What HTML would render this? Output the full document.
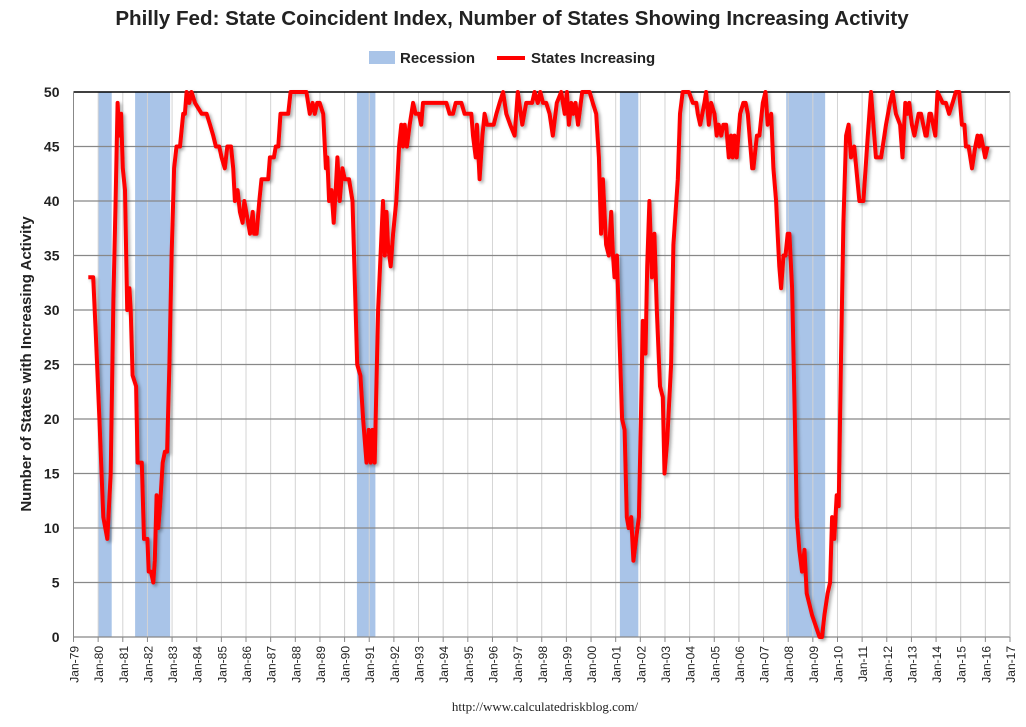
<!DOCTYPE html>
<html><head><meta charset="utf-8"><style>
body{margin:0;background:#fff;}
svg text{font-family:"Liberation Sans",sans-serif;}
</style></head><body>
<svg id="chart" width="1026" height="722" xmlns="http://www.w3.org/2000/svg">
<defs><filter id="sh" x="-5%" y="-5%" width="110%" height="110%"><feDropShadow dx="2" dy="2" stdDeviation="1.5" flood-color="#000" flood-opacity="0.35"/></filter></defs>
<text x="512" y="25" text-anchor="middle" font-size="20.6" font-weight="bold" fill="#222">Philly Fed: State Coincident Index, Number of States Showing Increasing Activity</text>
<g>
<rect x="369" y="51" width="26" height="13" fill="#a9c4e8"/>
<text x="400" y="63" font-size="15" font-weight="bold" fill="#222">Recession</text>
<line x1="497" y1="58" x2="525" y2="58" stroke="#f00" stroke-width="4"/>
<text x="531" y="63" font-size="15" font-weight="bold" fill="#222">States Increasing</text>
</g>
<text transform="translate(31,364) rotate(-90)" text-anchor="middle" font-size="15" font-weight="bold" fill="#222">Number of States with Increasing Activity</text>
<text x="545" y="711" text-anchor="middle" font-size="13" style="font-family:'Liberation Serif',serif" fill="#222">http://www.calculatedriskblog.com/</text>
<g id="plot"></g>
</svg>
<script>
const recStart=[1980.0,1981.5,1990.5,2001.17,2007.92];
const recEnd=[1980.55,1982.92,1991.25,2001.92,2009.5];
const yTicks=[0,5,10,15,20,25,30,35,40,45,50];
const years=[1979,1980,1981,1982,1983,1984,1985,1986,1987,1988,1989,1990,1991,1992,1993,1994,1995,1996,1997,1998,1999,2000,2001,2002,2003,2004,2005,2006,2007,2008,2009,2010,2011,2012,2013,2014,2015,2016,2017];
const dates=[1979.6,1979.8,1979.9,1980.05,1980.21,1980.37,1980.51,1980.62,1980.71,1980.79,1980.86,1980.93,1981.0,1981.09,1981.18,1981.27,1981.32,1981.4,1981.54,1981.6,1981.77,1981.86,1982.0,1982.05,1982.14,1982.24,1982.3,1982.37,1982.44,1982.51,1982.62,1982.71,1982.8,1982.89,1982.98,1983.08,1983.18,1983.32,1983.45,1983.52,1983.59,1983.7,1983.79,1983.93,1984.2,1984.4,1984.54,1984.67,1984.78,1984.91,1985.01,1985.14,1985.24,1985.39,1985.48,1985.55,1985.66,1985.75,1985.86,1985.93,1986.09,1986.16,1986.27,1986.33,1986.43,1986.54,1986.63,1986.9,1986.97,1987.13,1987.21,1987.31,1987.4,1987.71,1987.81,1988.45,1988.59,1988.7,1988.79,1988.89,1988.99,1989.13,1989.24,1989.3,1989.37,1989.47,1989.56,1989.64,1989.71,1989.8,1989.91,1990.01,1990.18,1990.32,1990.41,1990.51,1990.64,1990.75,1990.89,1990.98,1991.06,1991.13,1991.22,1991.36,1991.56,1991.63,1991.7,1991.76,1991.87,1991.97,1992.1,1992.21,1992.3,1992.37,1992.44,1992.53,1992.64,1992.78,1992.88,1993.02,1993.11,1993.18,1993.32,1994.13,1994.26,1994.4,1994.51,1994.74,1994.87,1995.14,1995.21,1995.32,1995.37,1995.48,1995.59,1995.68,1995.78,1996.05,1996.16,1996.29,1996.43,1996.56,1996.72,1996.9,1997.03,1997.21,1997.37,1997.61,1997.71,1997.84,1997.94,1998.05,1998.18,1998.32,1998.45,1998.61,1998.79,1998.93,1999.02,1999.1,1999.2,1999.29,1999.37,1999.47,1999.64,1999.94,2000.07,2000.21,2000.32,2000.41,2000.48,2000.61,2000.72,2000.82,2000.89,2000.95,2001.05,2001.16,2001.26,2001.36,2001.45,2001.53,2001.63,2001.72,2001.83,2001.94,2002.03,2002.1,2002.21,2002.28,2002.37,2002.47,2002.57,2002.67,2002.8,2002.91,2002.98,2003.09,2003.25,2003.34,2003.52,2003.61,2003.72,2003.86,2003.97,2004.13,2004.27,2004.33,2004.43,2004.6,2004.67,2004.78,2004.87,2005.01,2005.1,2005.18,2005.28,2005.37,2005.48,2005.59,2005.68,2005.75,2005.82,2005.91,2006.05,2006.18,2006.27,2006.36,2006.54,2006.59,2006.73,2006.83,2006.97,2007.08,2007.17,2007.31,2007.4,2007.51,2007.55,2007.64,2007.71,2007.81,2007.89,2007.98,2008.05,2008.16,2008.25,2008.35,2008.45,2008.56,2008.66,2008.75,2008.86,2008.97,2009.27,2009.37,2009.47,2009.6,2009.7,2009.78,2009.87,2009.97,2010.05,2010.14,2010.24,2010.35,2010.45,2010.55,2010.68,2010.89,2011.05,2011.23,2011.36,2011.56,2011.77,2011.97,2012.13,2012.24,2012.37,2012.54,2012.64,2012.75,2012.85,2012.91,2013.02,2013.12,2013.29,2013.39,2013.57,2013.62,2013.73,2013.79,2013.97,2014.06,2014.27,2014.4,2014.53,2014.67,2014.8,2014.94,2015.05,2015.15,2015.21,2015.32,2015.46,2015.59,2015.68,2015.75,2015.82,2015.91,2015.99,2016.09];
const values=[33,33,28,20,11,9,15,31,40,49,46,48,43,41,30,32,30,24,23,16,16,9,9,6,6,5,7,13,10,12,16,17,17,25,35,43,45,45,48,48,50,49,50,49,48,48,47,46,45,45,44,43,45,45,43,40,41,39,38,40,38,37,39,37,37,40,42,42,44,44,45,45,48,48,50,50,48,49,48,49,49,48,43,44,40,41,38,41,44,40,43,42,42,40,33,25,24,20,16,19,16,19,16,30,40,35,39,36,34,37,40,45,47,45,47,45,47,49,48,48,47,49,49,49,48,48,49,49,48,48,46,44,47,42,46,48,47,47,48,49,50,48,47,46,50,47,49,49,50,49,50,49,49,48,46,49,50,48,50,47,49,48,49,47,50,50,49,48,44,37,42,36,35,39,35,33,35,27,20,19,11,10,11,7,9,11,21,29,26,34,40,33,37,30,23,22,15,18,25,36,42,48,50,50,50,49,49,48,47,49,50,47,49,48,46,47,46,47,47,44,46,44,46,44,48,49,49,48,43,43,46,46,49,50,47,48,43,40,38,34,32,35,35,37,37,32,22,11,8,6,8,4,3,2,0,0,2,4,5,11,9,13,12,25,38,46,47,44,45,40,40,46,50,44,44,47,49,50,48,47,44,49,48,49,47,46,48,48,46,46,48,48,46,50,49,49,48,49,50,50,47,47,45,45,43,45,46,45,46,45,44,45,43];
const L=73.5,R=1010,T=92,B=637;
const xs=y=>L+(y-1979)*(R-L)/38;
const ys=v=>B-v*(B-T)/50;
const NS='http://www.w3.org/2000/svg';
const plot=document.getElementById('plot');
function mk(tag,attrs,parent){const e=document.createElementNS(NS,tag);for(const k in attrs)e.setAttribute(k,attrs[k]);(parent||plot).appendChild(e);return e;}
recStart.forEach((s,i)=>{
 const r=mk('rect',{x:xs(s),y:T,width:xs(recEnd[i])-xs(s),height:B-T,fill:'#a9c4e8'});
 
 
});
years.forEach(y=>{
 const x=xs(y);
 const g=mk('line',{x1:x,y1:T,x2:x,y2:B,stroke:'#d4d4d4','stroke-width':1});
 
 
 const t=mk('line',{x1:x,y1:B,x2:x,y2:B+5,stroke:'#888','stroke-width':1});
 
 
 const lab=mk('text',{transform:`translate(${x+5},${B+9}) rotate(-90)`,'text-anchor':'end','font-size':12,fill:'#222'});
 lab.textContent='Jan-'+String(y).slice(2);
 
 
});
yTicks.forEach(v=>{
 const y=ys(v);
 const g=mk('line',{x1:L,y1:y,x2:R,y2:y,stroke:v===50?'#000':'#888','stroke-width':v===50?1.5:1.2});
 
 
 const lab=mk('text',{x:L-14,y:y+5,'text-anchor':'end','font-size':14,'font-weight':'bold',fill:'#222'});
 lab.textContent=v;
 
 
});
const ax=mk('line',{x1:L,y1:T,x2:L,y2:B,stroke:'#888','stroke-width':1});


const ax2=mk('line',{x1:R,y1:T,x2:R,y2:B,stroke:'#bbb','stroke-width':1});


const d=dates.map((t,i)=>(i?'L':'M')+xs(t).toFixed(1)+','+ys(values[i]).toFixed(1)).join('');
const line=mk('path',{d:d,fill:'none',stroke:'#ff0000','stroke-width':4,'stroke-linejoin':'round',filter:'url(#sh)'});


</script>
</body></html>
